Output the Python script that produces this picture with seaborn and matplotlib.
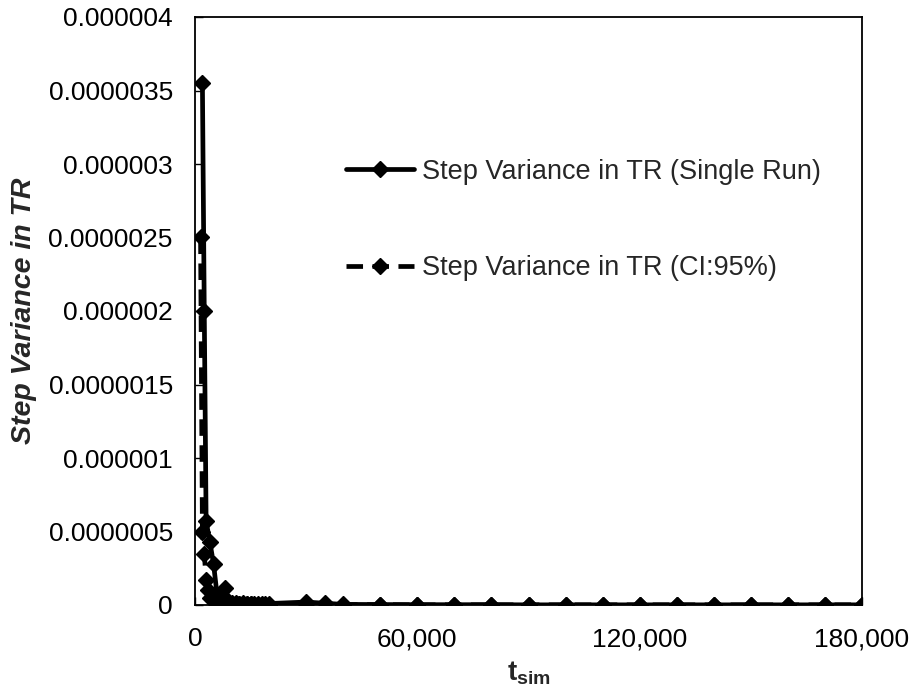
import matplotlib
matplotlib.use("Agg")
import matplotlib.pyplot as plt
import seaborn as sns
import pandas as pd

# ---- data ----
single_x = [2000, 2500, 3000, 4000, 5000, 6000, 7000, 8000, 9000, 10000,
            11000, 12000, 13000, 14000, 15000, 16000, 17000, 18000, 19000, 20000,
            30000, 40000, 50000, 60000, 70000, 80000, 90000, 100000, 110000, 120000,
            130000, 140000, 150000, 160000, 170000, 180000]
single_y = [3.55e-6, 2.0e-6, 0.57e-6, 0.43e-6, 0.28e-6, 0.06e-6, 0.03e-6, 0.115e-6, 0.03e-6, 0.015e-6,
            0.012e-6, 0.01e-6, 0.012e-6, 0.01e-6, 0.008e-6, 0.01e-6, 0.008e-6, 0.007e-6, 0.008e-6, 0.01e-6,
            0.02e-6, 0.004e-6, 0.003e-6, 0.002e-6, 0.002e-6, 0.002e-6, 0.001e-6, 0.001e-6, 0.001e-6, 0.001e-6,
            0.001e-6, 0.001e-6, 0.001e-6, 0.001e-6, 0.001e-6, 0.001e-6]

ci_x = [1500, 2000, 2500, 3000, 3500, 4000, 5000, 6000, 7000, 8000, 9000, 10000,
        11000, 12000, 13000, 14000, 15000, 16000, 17000, 18000, 19000, 20000,
        30000, 35000, 40000, 50000, 60000, 70000, 80000, 90000, 100000, 110000, 120000,
        130000, 140000, 150000, 160000, 170000, 180000]
ci_y = [2.5e-6, 0.5e-6, 0.35e-6, 0.17e-6, 0.1e-6, 0.05e-6, 0.03e-6, 0.02e-6, 0.015e-6, 0.01e-6, 0.008e-6, 0.006e-6,
        0.005e-6, 0.005e-6, 0.004e-6, 0.004e-6, 0.004e-6, 0.003e-6, 0.003e-6, 0.003e-6, 0.003e-6, 0.003e-6,
        0.006e-6, 0.012e-6, 0.003e-6, 0.002e-6, 0.001e-6, 0.001e-6, 0.001e-6, 0.001e-6, 0.001e-6, 0.001e-6, 0.001e-6,
        0.001e-6, 0.001e-6, 0.001e-6, 0.001e-6, 0.001e-6, 0.001e-6]

labels = ["Step Variance in TR (Single Run)", "Step Variance in TR (CI:95%)"]
x_ticks = [0, 60000, 120000, 180000]
x_tick_labels = ["0", "60,000", "120,000", "180,000"]
y_ticks = [0, 0.5e-6, 1.0e-6, 1.5e-6, 2.0e-6, 2.5e-6, 3.0e-6, 3.5e-6, 4.0e-6]
y_tick_labels = ["0", "0.0000005", "0.000001", "0.0000015", "0.000002",
                 "0.0000025", "0.000003", "0.0000035", "0.000004"]

# ---- style ----
sns.set_style("white")
plt.rcParams['font.family'] = ['Liberation Sans', 'DejaVu Sans']
plt.rcParams['mathtext.fontset'] = 'custom'
plt.rcParams['mathtext.rm'] = 'Liberation Sans'
plt.rcParams['mathtext.bf'] = 'Liberation Sans:bold'

fig = plt.figure(figsize=(9.14, 6.96), dpi=100)
ax = fig.add_axes([195/914, 1 - 605/696, (862 - 195)/914, (605 - 17)/696])

df1 = pd.DataFrame({"x": single_x, "y": single_y})
df2 = pd.DataFrame({"x": ci_x, "y": ci_y})

sns.lineplot(data=df2, x="x", y="y", ax=ax, color="black", lw=3.4,
             linestyle=(0, (3.5, 2)), marker="D", markersize=8, markeredgewidth=1,
             markeredgecolor="black", label=labels[1], zorder=3)
sns.lineplot(data=df1, x="x", y="y", ax=ax, color="black", lw=3.4,
             marker="D", markersize=8, markeredgewidth=1,
             markeredgecolor="black", label=labels[0], zorder=4)

ax.set_xlim(0, 180000)
ax.set_ylim(0, 4e-6)
ax.set_xticks(x_ticks)
ax.set_xticklabels(x_tick_labels)
ax.set_yticks(y_ticks)
ax.set_yticklabels(y_tick_labels)
ax.tick_params(axis="both", direction="in", length=6, width=1, labelsize=19,
               colors="black", left=True, bottom=True)
ax.tick_params(axis="y", pad=16)
ax.tick_params(axis="x", pad=16)

for s in ax.spines.values():
    s.set_color("black")
    s.set_linewidth(1.3)
    s.set_visible(True)

ax.set_xlabel(r"$\mathbf{t_{sim}}$", fontsize=20, labelpad=6)
ax.set_ylabel("Step Variance in TR", fontsize=20.5, fontweight="bold",
              fontstyle="italic", labelpad=8)

handles, labs = ax.get_legend_handles_labels()
order = [labs.index(labels[0]), labs.index(labels[1])]
leg = ax.legend([handles[i] for i in order], [labs[i] for i in order],
                loc="upper left", bbox_to_anchor=(0.19, 0.80), frameon=False,
                fontsize=19.5, labelspacing=2.6, handlelength=2.5, handletextpad=0.3)

fig.savefig("out.png", dpi=100)
